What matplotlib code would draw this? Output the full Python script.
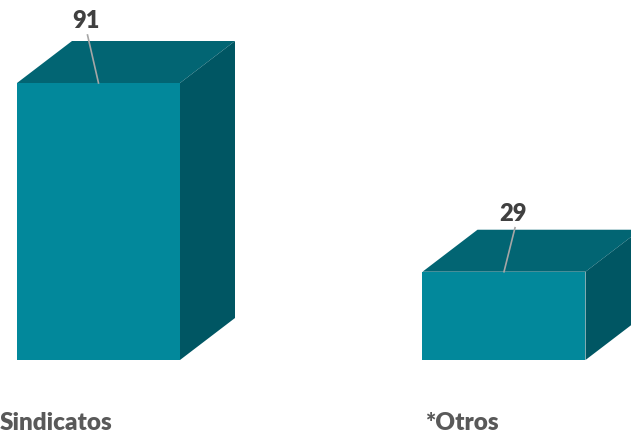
import matplotlib
matplotlib.use("Agg")
import matplotlib.pyplot as plt
from matplotlib.patches import Polygon

categories = ['Sindicatos', '*Otros']
values = [91, 29]

front_col = '#02889b'
top_col = '#026573'
side_col = '#005663'

fig = plt.figure(figsize=(6.31, 4.37), dpi=100)
# y=0 sits at 360 px from the top, 91 reaches 83 px
ax = fig.add_axes([0, 77 / 437, 1, 360 / 437])
px_y = 277 / 91.0
px_x = 405.5
ax.set_ylim(0, 360 / px_y)
ax.set_xlim(-98.5 / px_x, (631 - 98.5) / px_x)
ax.axis('off')

width = 163 / px_x
dx = 55 / px_x
dy = 42 / px_y

xs = list(range(len(values)))
ax.bar(xs, values, width=width, color=front_col, zorder=3)

for x, v in zip(xs, values):
    l, r = x - width / 2, x + width / 2
    top = Polygon([(l, v), (r, v), (r + dx, v + dy), (l + dx, v + dy)],
                  closed=True, facecolor=top_col, edgecolor='none', zorder=2)
    side = Polygon([(r, 0), (r + dx, dy), (r + dx, v + dy), (r, v)],
                   closed=True, facecolor=side_col, edgecolor='none', zorder=2)
    ax.add_patch(top)
    ax.add_patch(side)

# value labels with leader lines
label_off = [(-11 / px_x, 48 / px_y), (11 / px_x, 44 / px_y)]
for x, v, (ox, oy) in zip(xs, values, label_off):
    ax.plot([x, x + ox], [v, v + oy], color='#a6a6a6', lw=1.2, zorder=4,
            clip_on=False)
    ax.text(x + ox - 2 / px_x, v + oy + 3 / px_y, str(v), ha='center', va='bottom',
            fontsize=17, fontweight='heavy', color='#404040', family='Lato',
            zorder=5)

# category labels
fig.text(0 / 631, 1 - 430 / 437, categories[0], ha='left', va='baseline',
         fontsize=17.5, fontweight='heavy', color='#595959', family='Lato')
fig.text(425 / 631, 1 - 430 / 437, categories[1], ha='left', va='baseline',
         fontsize=17.5, fontweight='heavy', color='#595959', family='Lato')

fig.savefig('out.png', dpi=100)
